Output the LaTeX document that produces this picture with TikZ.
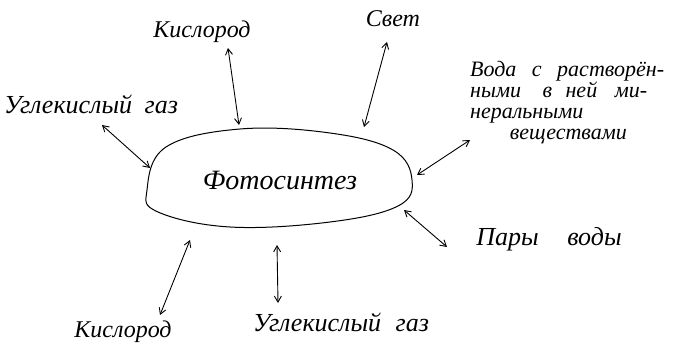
\documentclass[tikz,border=0pt]{standalone}
\usepackage{fontspec}
\setmainfont{Liberation Serif}
\usetikzlibrary{arrows.meta}
\tikzset{
  lbl/.style={font=\itshape\fontsize{24}{26}\selectfont, inner sep=0pt},
  big/.style={font=\itshape\fontsize{26}{28}\selectfont},
  link/.style={line width=0.9pt, {Straight Barb[length=6pt,width=7pt]}-{Straight Barb[length=6pt,width=7pt]}},
  blob/.style={line width=1pt}
}
\begin{document}
\begin{tikzpicture}[x=1pt,y=-1pt]
\useasboundingbox (0,0) rectangle (684,358);
\fill[white] (0,0) rectangle (684,358);
% central blob
\draw[blob] plot[smooth cycle, tension=0.65] coordinates {(147,190) (166,147) (240,129) (330,133) (393,150) (412,180) (398,206) (330,222) (230,227) (158,212)};
\node[lbl, font=\itshape\fontsize{28}{30}\selectfont] (ph) at (280,180) {Фотосинтез};
% labels
\node[lbl] (o1) at (202,32) {Кислород};
\node[lbl] (sv) at (393,19) {Свет};
\node[lbl, big] (c1) at (91,104) {Углекислый\hspace{6pt} газ};
\node[lbl, align=left, anchor=north west, font=\itshape\fontsize{22}{21}\selectfont] (w) at (470,61) {Вода\hspace{10pt} с\hspace{10pt} растворён-\\ными\hspace{16pt} в\hspace{8pt} ней\hspace{12pt} ми-\\неральными\\\hspace*{1.8em}веществами};
\node[lbl, big] (pv) at (549,239) {Пары\hspace{22pt} воды};
\node[lbl] (o2) at (123,332) {Кислород};
\node[lbl, big] (c2) at (341,322) {Углекислый\hspace{8pt} газ};
% arrow endpoints
\coordinate (a1) at (228,48); \coordinate (b1) at (239,125);
\coordinate (a2) at (102,125); \coordinate (b2) at (150,168);
\coordinate (a3) at (387,42); \coordinate (b3) at (364,127);
\coordinate (a4) at (470,140); \coordinate (b4) at (417,175);
\coordinate (a5) at (404,210); \coordinate (b5) at (447,247);
\coordinate (a6) at (190,240); \coordinate (b6) at (160,315);
\coordinate (a7) at (277,245); \coordinate (b7) at (278,303);
\draw[link] (a1) -- (b1);
\draw[link] (a2) -- (b2);
\draw[link] (a3) -- (b3);
\draw[link] (a4) -- (b4);
\draw[link] (a5) -- (b5);
\draw[link] (a6) -- (b6);
\draw[link] (a7) -- (b7);
\end{tikzpicture}
\end{document}
